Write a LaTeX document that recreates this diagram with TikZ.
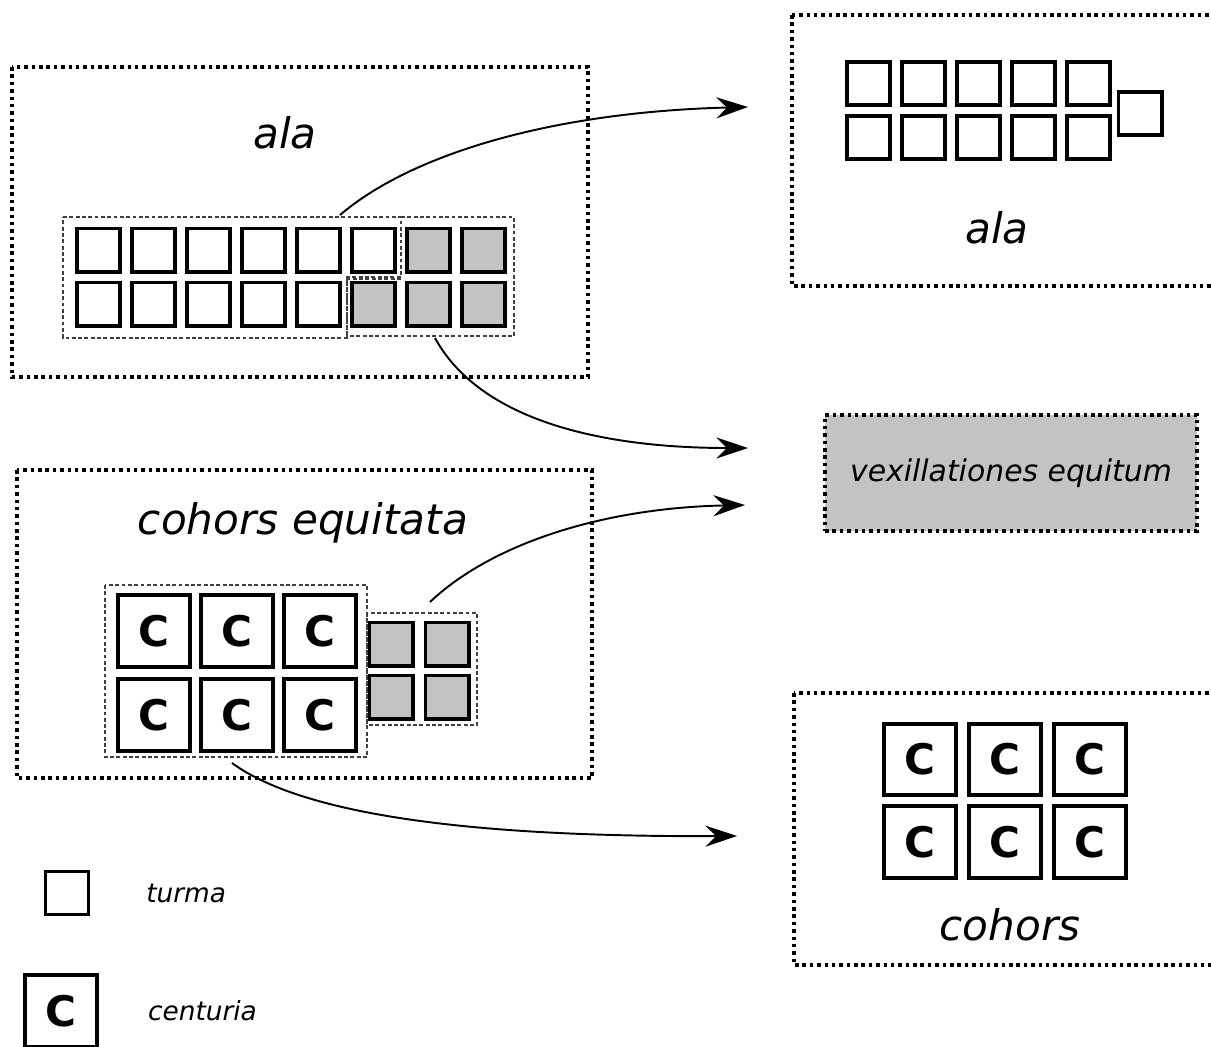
\documentclass[tikz,border=0pt]{standalone}
\usepackage{fontspec}
\setmainfont{DejaVu Sans}
\usetikzlibrary{arrows.meta, positioning}
\definecolor{vexgray}{RGB}{195,195,195}

\begin{document}
\begin{tikzpicture}[x=0.02cm, y=-0.02cm,
  turma/.style={draw, line width=2pt, minimum size=0.87cm, inner sep=0pt},
  vexturma/.style={turma, fill=vexgray},
  centuria/.style={draw, line width=2.5pt, minimum size=1.43cm, inner sep=0pt,
    font=\fontsize{24}{24}\selectfont\bfseries},
  unitbox/.style={line width=1.8pt, dash pattern=on 2pt off 2.2pt},
  grouping/.style={line width=0.8pt, dash pattern=on 2.2pt off 1.4pt, black!75},
  bigtext/.style={font=\fontsize{24}{28}\selectfont\itshape},
  smalltext/.style={font=\fontsize{15}{18}\selectfont\itshape},
  move/.style={line width=1.1pt, -{Stealth[length=18pt, width=12pt, inset=6pt]}}]

\useasboundingbox (0,0) rectangle (1211,1046);
\clip (0,0) rectangle (1211,1046);

% ala (before)
\draw[unitbox] (12,67) rectangle (588,377);
\node[bigtext] (alaA) at (285,133) {ala};
\foreach \i in {0,...,5}
  \node[turma] (a1-\i) at (98.5+55*\i,250) {};
\foreach \i in {6,7}
  \node[vexturma] (a1-\i) at (98.5+55*\i,250) {};
\foreach \i in {0,...,4}
  \node[turma] (a2-\i) at (98.5+55*\i,304) {};
\foreach \i in {5,6,7}
  \node[vexturma] (a2-\i) at (98.5+55*\i,304) {};
\draw[grouping] (63,217) -- (401,217) -- (401,277) -- (347,277) -- (347,338) -- (63,338) -- cycle;
\draw[grouping] (401,217) -- (514,217) -- (514,336) -- (347,336) -- (347,279) -- (401,279);

% ala (after)
\draw[unitbox] (792,15) rectangle (1220,286);
\foreach \i in {0,...,4} {
  \node[turma] (b1-\i) at (868.5+55*\i,83.5) {};
  \node[turma] (b2-\i) at (868.5+55*\i,137.5) {};
}
\node[turma] (bx) at (1140,113.5) {};
\node[bigtext] (alaB) at (997,228) {ala};

% vexillationes
\node[draw, unitbox, fill=vexgray, minimum width=7.44cm, minimum height=2.32cm,
  font=\fontsize{17}{20}\selectfont\itshape] (vex) at (1011,473) {vexillationes equitum};

% cohors equitata
\draw[unitbox] (17,470) rectangle (592,778);
\node[bigtext] (coheq) at (303,523) {cohors equitata};
\foreach \i in {0,1,2} {
  \node[centuria] (c1-\i) at (154+83*\i,631) {C};
  \node[centuria] (c2-\i) at (154+83*\i,715) {C};
}
\foreach \i in {0,1} {
  \node[vexturma] (v1-\i) at (391+56*\i,644) {};
  \node[vexturma] (v2-\i) at (391+56*\i,697) {};
}
\draw[grouping] (105,585) rectangle (367,757);
\draw[grouping] (367,613) rectangle (477,725);

% cohors
\draw[unitbox] (794,693) rectangle (1220,965);
\foreach \i in {0,1,2} {
  \node[centuria] (d1-\i) at (920+85*\i,759.5) {C};
  \node[centuria] (d2-\i) at (920+85*\i,842) {C};
}
\node[bigtext] (coh) at (1010,925) {cohors};

% legend
\node[turma, line width=1.6pt] (legT) at (67,893) {};
\node[smalltext, right=1cm of legT] (legTtxt) {turma};
\node[centuria] (legC) at (61,1011) {C};
\node[smalltext, right=0.86cm of legC] (legCtxt) {centuria};

% arrows
\coordinate (alaOut) at (340,215);
\coordinate (vexOutA) at (435,338);
\coordinate (vexOutC) at (430,602);
\coordinate (cohOut) at (232,763);
\coordinate (toAla) at (748,107);
\coordinate (toVexA) at (748,448);
\coordinate (toVexC) at (745,505);
\coordinate (toCoh) at (737,836);
\draw[move] (alaOut) .. controls (410,155) and (550,112) .. (toAla);
\draw[move] (vexOutA) .. controls (480,420) and (600,448) .. (toVexA);
\draw[move] (vexOutC) .. controls (490,545) and (600,508) .. (toVexC);
\draw[move] (cohOut) .. controls (310,820) and (500,837) .. (toCoh);

\end{tikzpicture}
\end{document}
